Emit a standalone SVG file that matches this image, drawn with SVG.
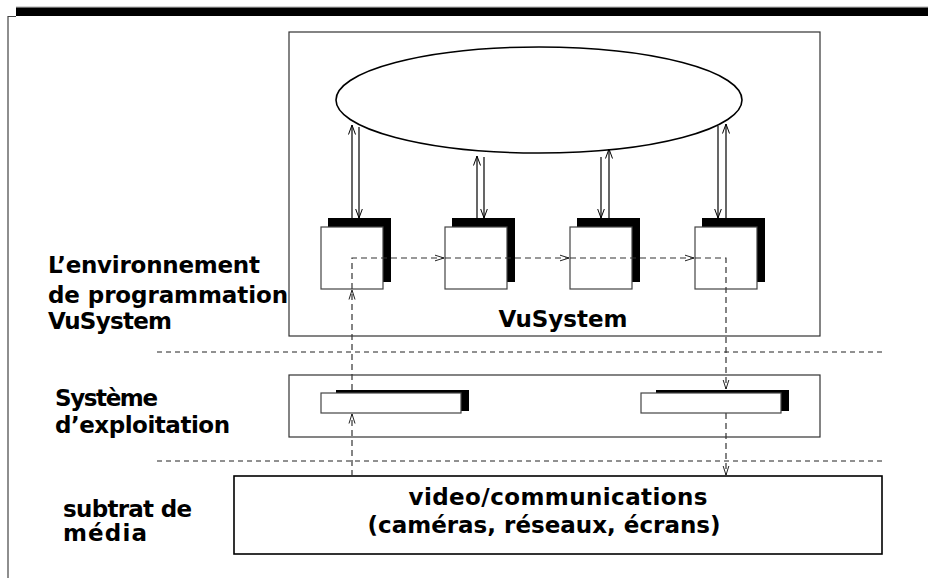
<svg xmlns="http://www.w3.org/2000/svg" width="928" height="578" viewBox="0 0 928 578">
<style>
.box{fill:#fff;stroke:#333;stroke-width:1.2}
.mod{fill:#fff;stroke:#444;stroke-width:1.2}
.shadow{fill:#000}
.sep{fill:none;stroke:#222;stroke-width:1;stroke-dasharray:5 4}
.flow{fill:none;stroke:#333;stroke-width:1.2;stroke-dasharray:6 4}
.ctl{fill:none;stroke:#000;stroke-width:1.2}
.lbl{font-family:"DejaVu Sans","Liberation Sans",sans-serif;font-weight:bold;font-size:23px;fill:#000}
</style>
<defs>
<marker id="arr" viewBox="0 0 10 8" refX="9.5" refY="4" markerWidth="10" markerHeight="8" markerUnits="userSpaceOnUse" orient="auto">
<path d="M0,0.5 L9.5,4 L0,7.5" fill="none" stroke="#000" stroke-width="1"/>
</marker>
<marker id="darr" viewBox="0 0 10 8" refX="9.5" refY="4" markerWidth="10" markerHeight="8" markerUnits="userSpaceOnUse" orient="auto">
<path d="M0,1 L9.5,4 L0,7" fill="none" stroke="#222" stroke-width="1"/>
</marker>
</defs>
<rect width="928" height="578" fill="#fff"/>
<g id="frame">
<line x1="16" y1="7" x2="928" y2="7" stroke="#aaa" stroke-width="1"/>
<rect x="16" y="7.5" width="912" height="8.5" fill="#000"/>
<path d="M8,578 V16.5 H16" fill="none" stroke="#444" stroke-width="1.2"/>
</g>
<g id="separators">
<line class="sep" x1="157" y1="352" x2="883" y2="352"/>
<line class="sep" x1="157" y1="461" x2="883" y2="461"/>
</g>
<g id="vusystem-box">
<rect class="box" x="289" y="32" width="531" height="304"/>
<text class="lbl" x="563" y="327" text-anchor="middle" font-size="26">VuSystem</text>
</g>
<g id="ellipse">
<ellipse cx="539" cy="100" rx="203" ry="53" fill="#fff" stroke="#000" stroke-width="1.6"/>
</g>
<g id="module1">
<rect class="shadow" x="328" y="218" width="63" height="64"/>
<rect class="mod" x="321" y="227" width="62" height="62"/>
</g>
<g id="module2">
<rect class="shadow" x="452" y="218" width="63" height="64"/>
<rect class="mod" x="445" y="227" width="62" height="62"/>
</g>
<g id="module3">
<rect class="shadow" x="577" y="218" width="63" height="64"/>
<rect class="mod" x="570" y="227" width="62" height="62"/>
</g>
<g id="module4">
<rect class="shadow" x="702" y="218" width="63" height="64"/>
<rect class="mod" x="695" y="227" width="62" height="62"/>
</g>
<g id="os-box">
<rect class="box" x="289" y="375" width="531" height="62"/>
</g>
<g id="media-box">
<rect x="234" y="476" width="648" height="78" fill="#fff" stroke="#000" stroke-width="1.6"/>
<text class="lbl" x="558" y="505" text-anchor="middle" textLength="299" lengthAdjust="spacing">video/communications</text>
<text class="lbl" x="544" y="533" text-anchor="middle" textLength="353" lengthAdjust="spacing">(caméras, réseaux, écrans)</text>
</g>
<g id="connectors">
<line class="flow" x1="352" y1="476" x2="352" y2="414" marker-end="url(#darr)"/>
<line class="flow" x1="726" y1="413" x2="726" y2="475" marker-end="url(#darr)"/>
<path class="flow" d="M352,390 V290" marker-end="url(#darr)"/>
<path class="flow" d="M352,289 V258 H444" marker-end="url(#darr)"/>
<path class="flow" d="M445,258 H569" marker-end="url(#darr)"/>
<path class="flow" d="M570,258 H694" marker-end="url(#darr)"/>
<path class="flow" d="M695,258 H726 V389" marker-end="url(#darr)"/>
<line class="ctl" x1="352" y1="218" x2="352" y2="125" marker-end="url(#arr)"/>
<line class="ctl" x1="359" y1="127" x2="359" y2="218" marker-end="url(#arr)"/>
<line class="ctl" x1="477" y1="218" x2="477" y2="156" marker-end="url(#arr)"/>
<line class="ctl" x1="484" y1="157" x2="484" y2="218" marker-end="url(#arr)"/>
<line class="ctl" x1="601" y1="157" x2="601" y2="218" marker-end="url(#arr)"/>
<line class="ctl" x1="609" y1="218" x2="609" y2="149" marker-end="url(#arr)"/>
<line class="ctl" x1="718" y1="126" x2="718" y2="218" marker-end="url(#arr)"/>
<line class="ctl" x1="726" y1="218" x2="726" y2="124" marker-end="url(#arr)"/>
</g>
<g id="os-block1">
<rect class="shadow" x="336" y="390" width="133" height="21"/>
<rect class="mod" x="321" y="393" width="140" height="20"/>
</g>
<g id="os-block2">
<rect class="shadow" x="656" y="390" width="133" height="21"/>
<rect class="mod" x="641" y="393" width="140" height="20"/>
</g>
<g id="layer-labels">
<text class="lbl" x="48" y="273" textLength="212" lengthAdjust="spacing">L’environnement</text>
<text class="lbl" x="48" y="303" textLength="240" lengthAdjust="spacing">de programmation</text>
<text class="lbl" x="48" y="329" textLength="124" lengthAdjust="spacing">VuSystem</text>
<text class="lbl" x="55" y="406" textLength="103" lengthAdjust="spacing">Système</text>
<text class="lbl" x="55" y="433" textLength="175" lengthAdjust="spacing">d’exploitation</text>
<text class="lbl" x="63" y="517" textLength="129" lengthAdjust="spacing">subtrat de</text>
<text class="lbl" x="63" y="541" textLength="84" lengthAdjust="spacing">média</text>
</g>
</svg>
